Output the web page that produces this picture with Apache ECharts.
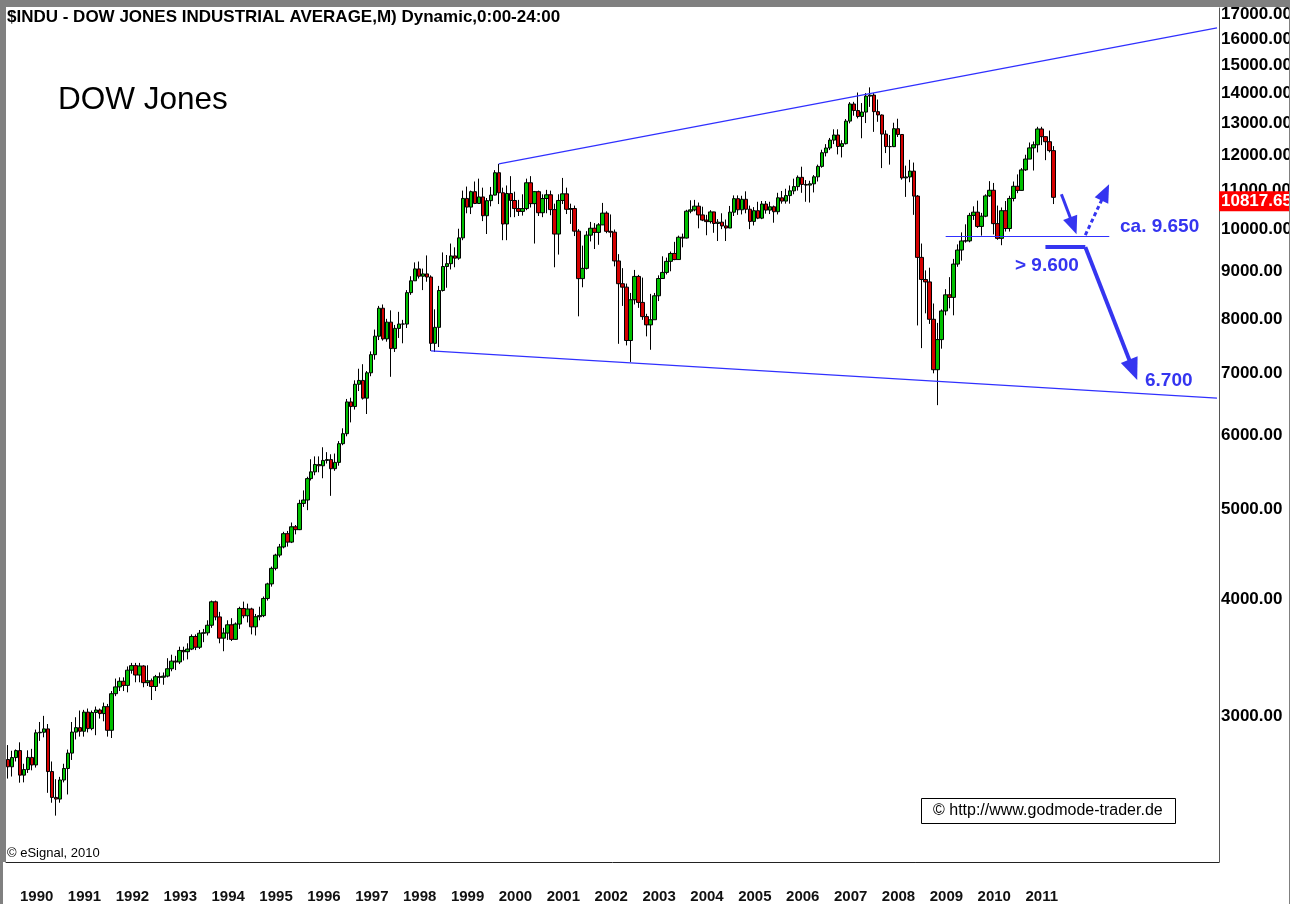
<!DOCTYPE html>
<html>
<head>
<meta charset="utf-8">
<title>DOW Jones</title>
<script src="https://cdn.jsdelivr.net/npm/echarts@6.0.0/dist/echarts.min.js"></script>
<style>
html, body { margin: 0; padding: 0; background: #fff; }
#main { width: 1298px; height: 904px; }
</style>
</head>
<body>
<div id="main"></div>
<script>
// monthly bars, Oct 1989 .. Aug 2011
var opens = [
    2693, 2645, 2706,
    2753, 2591, 2627, 2707, 2657, 2877, 2881, 2905, 2614, 2452, 2442, 2560,
    2634, 2736, 2882, 2914, 2888, 3028, 2907, 3025, 3044, 3017, 3069, 2895,
    3169, 3223, 3268, 3235, 3359, 3397, 3319, 3394, 3257, 3272, 3226, 3305,
    3301, 3310, 3371, 3435, 3428, 3527, 3516, 3539, 3651, 3555, 3681, 3684,
    3754, 3978, 3832, 3636, 3682, 3758, 3625, 3765, 3913, 3843, 3908, 3739,
    3834, 3844, 4011, 4158, 4321, 4465, 4556, 4708, 4611, 4789, 4755, 5074,
    5117, 5395, 5486, 5587, 5569, 5643, 5655, 5529, 5616, 5882, 6029, 6522,
    6448, 6813, 6878, 6583, 7009, 7331, 7673, 8223, 7622, 7945, 7442, 7823,
    7908, 7907, 8546, 8800, 9063, 8900, 8952, 8883, 7539, 7843, 8592, 9117,
    9181, 9359, 9307, 9786, 10789, 10560, 10971, 10655, 10829, 10337, 10730, 10878,
    11497, 10941, 10128, 10922, 10734, 10522, 10448, 10522, 11215, 10651, 10971, 10414,
    10787, 10887, 10495, 9879, 10735, 10912, 10502, 10523, 9950, 8848, 9075, 9852,
    10022, 9920, 10106, 10404, 9946, 9925, 9243, 8737, 8663, 7592, 8397, 8896,
    8342, 8054, 7891, 7992, 8480, 8850, 8985, 9234, 9416, 9275, 9801, 9782,
    10454, 10488, 10584, 10358, 10226, 10188, 10435, 10140, 10174, 10080, 10027, 10428,
    10783, 10490, 10766, 10504, 10193, 10467, 10275, 10641, 10482, 10569, 10440, 10806,
    10718, 10865, 10993, 11109, 11367, 11168, 11150, 11186, 11381, 11679, 12081, 12222,
    12463, 12622, 12269, 12354, 13063, 13628, 13409, 13212, 13358, 13896, 13930, 13372,
    13262, 12650, 12266, 12263, 12820, 12638, 11350, 11378, 11544, 10851, 9325, 8829,
    8776, 8001, 7063, 7609, 8168, 8500, 8447, 9172, 9496, 9712, 9713, 10345,
    10428, 10067, 10325, 10857, 11009, 10137, 9774, 10466, 10015, 10788, 11118, 11006,
    11578, 11892, 12226, 12320, 12811, 12570, 12414, 12143
];
var highs = [
    2791, 2752, 2761,
    2810, 2665, 2755, 2765, 2900, 2955, 3000, 2940, 2680, 2565, 2580, 2665,
    2760, 2955, 2990, 3040, 3045, 3055, 3040, 3070, 3055, 3100, 3090, 3190,
    3290, 3300, 3300, 3390, 3420, 3420, 3420, 3400, 3400, 3290, 3320, 3340,
    3340, 3460, 3490, 3480, 3560, 3560, 3590, 3670, 3670, 3710, 3720, 3800,
    3990, 3990, 3880, 3730, 3800, 3820, 3780, 3930, 3980, 3960, 3920, 3860,
    3930, 4030, 4170, 4340, 4480, 4590, 4730, 4740, 4840, 4810, 5120, 5240,
    5420, 5660, 5700, 5700, 5830, 5760, 5730, 5740, 5920, 6110, 6570, 6590,
    6880, 7080, 7160, 7040, 7390, 7800, 8270, 8300, 8010, 8180, 7890, 8150,
    7990, 8600, 8900, 9210, 9230, 9070, 9370, 8920, 8200, 8690, 9440, 9380,
    9650, 9560, 10010, 11000, 11110, 11000, 11250, 11330, 11080, 10800, 11100, 11570,
    11750, 11080, 11140, 11400, 10970, 10750, 10900, 11330, 11400, 10990, 11000, 10900,
    11020, 11000, 10650, 10900, 11350, 11080, 10650, 10600, 10000, 9600, 9950, 10180,
    10150, 10150, 10670, 10450, 10370, 9990, 9400, 9080, 8740, 8540, 9040, 8930,
    8870, 8110, 8520, 8540, 8920, 9350, 9320, 9460, 9690, 9840, 9890, 10490,
    10740, 10750, 10680, 10570, 10360, 10480, 10440, 10250, 10400, 10240, 10590, 10870,
    10870, 10860, 10980, 10600, 10560, 10700, 10720, 10720, 10700, 10600, 10940, 10990,
    11050, 11140, 11330, 11420, 11670, 11290, 11270, 11430, 11730, 12170, 12340, 12530,
    12800, 12800, 12460, 13130, 13690, 13700, 14020, 13660, 14000, 14200, 14000, 13780,
    13280, 12770, 12620, 13010, 13140, 12650, 11700, 11870, 11790, 10880, 9650, 9030,
    9090, 8320, 7930, 8200, 8620, 8880, 9290, 9630, 9920, 10120, 10410, 10580,
    10730, 10410, 10900, 11260, 11210, 10600, 10550, 10720, 10860, 11250, 11450, 11630,
    12020, 12390, 12420, 12880, 12880, 12580, 12760, 12280
];
var lows = [
    2569, 2582, 2680,
    2543, 2545, 2605, 2622, 2640, 2820, 2845, 2480, 2420, 2344, 2420, 2545,
    2470, 2690, 2830, 2850, 2850, 2880, 2895, 2860, 2980, 2960, 2850, 2840,
    3150, 3190, 3190, 3180, 3330, 3260, 3260, 3220, 3230, 3120, 3190, 3250,
    3240, 3300, 3350, 3360, 3410, 3440, 3450, 3530, 3530, 3540, 3600, 3660,
    3730, 3800, 3590, 3520, 3620, 3610, 3620, 3720, 3820, 3780, 3670, 3660,
    3800, 3830, 3990, 4130, 4300, 4440, 4540, 4560, 4600, 4700, 4750, 5030,
    4990, 5370, 5440, 5480, 5400, 5600, 5170, 5500, 5570, 5860, 5990, 6200,
    6400, 6700, 6560, 6330, 6950, 7240, 7600, 7590, 7570, 6940, 7380, 7640,
    7540, 7830, 8500, 8800, 8850, 8600, 8780, 7400, 7380, 7470, 8570, 8650,
    9050, 9100, 9270, 9730, 10400, 10380, 10640, 10650, 10200, 9880, 10580, 10870,
    10640, 9730, 9730, 10300, 10300, 10330, 10340, 10480, 10550, 9650, 10330, 10300,
    10400, 10350, 9100, 9390, 10640, 10380, 10130, 9830, 8060, 8660, 9050, 9700,
    9520, 9620, 10100, 9900, 9800, 9120, 7530, 8270, 7500, 7200, 8300, 8230,
    7990, 7670, 7420, 7990, 8370, 8840, 8940, 9010, 9260, 9270, 9560, 9770,
    10400, 10450, 10020, 10200, 9850, 10140, 9910, 9710, 10000, 9710, 10030, 10330,
    10360, 10370, 10400, 10000, 10090, 10250, 10250, 10390, 10380, 10160, 10370, 10650,
    10650, 10650, 10900, 11000, 10940, 10700, 10680, 10950, 11250, 11640, 11970, 12160,
    12340, 12030, 11940, 12330, 12990, 13240, 13150, 12520, 13000, 13530, 12720, 13040,
    11630, 12070, 11730, 12250, 12560, 11300, 10830, 11230, 10360, 7880, 7450, 8120,
    7910, 7000, 6470, 7440, 8080, 8220, 8080, 9110, 9250, 9670, 9680, 10230,
    10030, 9840, 10300, 10830, 9870, 9740, 9610, 9940, 9940, 10710, 10930, 11000,
    11550, 11890, 11560, 12090, 12310, 11860, 12090, 10640
];
var closes = [
    2645, 2706, 2753,
    2591, 2627, 2707, 2657, 2877, 2881, 2905, 2614, 2452, 2442, 2560, 2634,
    2736, 2882, 2914, 2888, 3028, 2907, 3025, 3044, 3017, 3069, 2895, 3169,
    3223, 3268, 3235, 3359, 3397, 3319, 3394, 3257, 3272, 3226, 3305, 3301,
    3310, 3371, 3435, 3428, 3527, 3516, 3539, 3651, 3555, 3681, 3684, 3754,
    3978, 3832, 3636, 3682, 3758, 3625, 3765, 3913, 3843, 3908, 3739, 3834,
    3844, 4011, 4158, 4321, 4465, 4556, 4708, 4611, 4789, 4755, 5074, 5117,
    5395, 5486, 5587, 5569, 5643, 5655, 5529, 5616, 5882, 6029, 6522, 6448,
    6813, 6878, 6583, 7009, 7331, 7673, 8223, 7622, 7945, 7442, 7823, 7908,
    7907, 8546, 8800, 9063, 8900, 8952, 8883, 7539, 7843, 8592, 9117, 9181,
    9359, 9307, 9786, 10789, 10560, 10971, 10655, 10829, 10337, 10730, 10878, 11497,
    10941, 10128, 10922, 10734, 10522, 10448, 10522, 11215, 10651, 10971, 10414, 10787,
    10887, 10495, 9879, 10735, 10912, 10502, 10523, 9950, 8848, 9075, 9852, 10022,
    9920, 10106, 10404, 9946, 9925, 9243, 8737, 8663, 7592, 8397, 8896, 8342,
    8054, 7891, 7992, 8480, 8850, 8985, 9234, 9416, 9275, 9801, 9782, 10454,
    10488, 10584, 10358, 10226, 10188, 10435, 10140, 10174, 10080, 10027, 10428, 10783,
    10490, 10766, 10504, 10193, 10467, 10275, 10641, 10482, 10569, 10440, 10806, 10718,
    10865, 10993, 11109, 11367, 11168, 11150, 11186, 11381, 11679, 12081, 12222, 12463,
    12622, 12269, 12354, 13063, 13628, 13409, 13212, 13358, 13896, 13930, 13372, 13265,
    12650, 12266, 12263, 12820, 12638, 11350, 11378, 11544, 10851, 9325, 8829, 8776,
    8001, 7063, 7609, 8168, 8500, 8447, 9172, 9496, 9712, 9713, 10345, 10428,
    10067, 10325, 10857, 11009, 10137, 9774, 10466, 10015, 10788, 11118, 11006, 11578,
    11892, 12226, 12320, 12811, 12570, 12414, 12143, 10818
];
var lastPrice = 10817.65;

// right axis ticks (log scale)
var tickValues = [3000, 4000, 5000, 6000, 7000, 8000, 9000, 10000, 11000, 12000, 13000, 14000, 15000, 16000, 17000];
var yMin = 2090, yMax = 17280;

// drawings: [month, price]
var upperTrend = [['2000-01', 11750], ['2015-01', 16450]];
var lowerTrend = [['1998-08', 7400], ['2015-01', 6585]];
var supportLevel = [['2009-05', 9825], ['2012-10', 9825]];
var breakLevel = [['2011-06', 9565], ['2012-04', 9565]];
var targetArrow = [['2012-04', 9565], ['2013-04', 7060]];
var pullbackArrow = [['2011-10', 10900], ['2012-01', 10082]];
var reboundArrow = [['2012-04', 9853], ['2012-09', 10953]];

// month slots, Oct 1989 .. Jan 2015 (empty space on the right)
var months = [];
for (var i = 0; i < 304; i++) {
    var t = 9 + i;
    months.push((1989 + Math.floor(t / 12)) + '-' + ('0' + (t % 12 + 1)).slice(-2));
}

var FONT = '"Liberation Sans", Arial, sans-serif';
var BLUE = '#3030ff';
var ANNO = '#3535f0';

function lg(v) { return Math.log10(v); }

var candles = opens.map(function (o, i) {
    return [lg(o), lg(closes[i]), lg(lows[i]), lg(highs[i])];
});

function seg(pts, style, arrow) {
    return [
        { coord: [pts[0][0], lg(pts[0][1])], symbol: 'none', lineStyle: style },
        { coord: [pts[1][0], lg(pts[1][1])], symbol: arrow ? 'triangle' : 'none', symbolSize: arrow || 0 }
    ];
}

var myChart = echarts.init(document.getElementById('main'));
var option = {
    animation: false,
    backgroundColor: '#fff',
    grid: { left: 6, right: 79, top: 8, bottom: 42, show: false },
    xAxis: {
        type: 'category',
        data: months,
        boundaryGap: true,
        axisLine: { show: true, lineStyle: { color: '#222', width: 1 } },
        axisTick: { show: false },
        splitLine: { show: false },
        axisLabel: {
            interval: function (idx, v) { return v.slice(5) === '01' && +v.slice(0, 4) <= 2011; },
            formatter: function (v) { return v.slice(0, 4); },
            align: 'left',
            margin: 27,
            hideOverlap: false,
            color: '#111',
            fontSize: 15,
            fontWeight: 'bold',
            fontFamily: FONT
        }
    },
    yAxis: {
        type: 'value',
        position: 'right',
        min: lg(yMin),
        max: lg(yMax),
        axisLine: { show: true, lineStyle: { color: '#555', width: 1 } },
        axisTick: { show: false },
        splitLine: { show: false },
        axisLabel: {
            customValues: tickValues.map(lg),
            formatter: function (v) { return Math.round(Math.pow(10, v)).toFixed(2); },
            margin: 2,
            padding: [3, 0, 0, 0],
            color: '#000',
            fontSize: 17,
            fontWeight: 'bold',
            fontFamily: FONT
        }
    },
    series: [
        {
            name: '$INDU',
            type: 'candlestick',
            data: candles,
            barWidth: 4,
            itemStyle: {
                color: '#00c000',
                color0: '#d40000',
                borderColor: '#000',
                borderColor0: '#000',
                borderColorDoji: '#000',
                borderWidth: 1
            },
            markLine: {
                silent: true,
                symbol: ['none', 'none'],
                label: { show: false },
                emphasis: { disabled: true },
                data: [
                    seg(upperTrend, { color: BLUE, width: 1.2, type: 'solid' }),
                    seg(lowerTrend, { color: BLUE, width: 1.2, type: 'solid' }),
                    seg(supportLevel, { color: BLUE, width: 1.2, type: 'solid' }),
                    seg(breakLevel, { color: ANNO, width: 4, type: 'solid' }),
                    seg(targetArrow, { color: ANNO, width: 4, type: 'solid' }, [18, 22]),
                    seg(pullbackArrow, { color: ANNO, width: 3, type: 'solid' }, [15, 18]),
                    seg(reboundArrow, { color: ANNO, width: 3, type: [4, 3] }, [15, 18])
                ]
            }
        },
        {
            name: 'last',
            type: 'line',
            data: [],
            silent: true,
            markLine: {
                silent: true,
                symbol: ['none', 'none'],
                emphasis: { disabled: true },
                lineStyle: { color: 'rgba(0,0,0,0)', width: 0 },
                label: {
                    show: true,
                    position: 'end',
                    distance: 0,
                    formatter: lastPrice.toFixed(2),
                    color: '#fff',
                    backgroundColor: '#ff0000',
                    fontSize: 17,
                    fontWeight: 'bold',
                    fontFamily: FONT,
                    padding: [2, 3, 1, 2]
                },
                data: [{ yAxis: lg(lastPrice) }]
            }
        }
    ],
    graphic: [
        { type: 'rect', z: 100, shape: { x: 0, y: 0, width: 1298, height: 7 }, style: { fill: '#808080' } },
        { type: 'rect', z: 100, shape: { x: 0, y: 0, width: 6, height: 862 }, style: { fill: '#808080' } },
        { type: 'rect', z: 100, shape: { x: 0, y: 862, width: 3, height: 42 }, style: { fill: '#808080' } },
        { type: 'rect', z: 100, shape: { x: 1290, y: 0, width: 8, height: 904 }, style: { fill: '#fff' } },
        { type: 'line', z: 101, shape: { x1: 1289.5, y1: 0, x2: 1289.5, y2: 904 }, style: { stroke: '#808080', lineWidth: 1 } },
        { type: 'text', z: 100, x: 7, y: 17, style: { text: '$INDU - DOW JONES INDUSTRIAL AVERAGE,M) Dynamic,0:00-24:00', font: 'bold 17px ' + FONT, fill: '#000', verticalAlign: 'middle' } },
        { type: 'text', z: 100, x: 58, y: 100, style: { text: 'DOW Jones', font: '31.5px ' + FONT, fill: '#000', verticalAlign: 'middle' } },
        { type: 'text', z: 100, x: 7, y: 853, style: { text: '\u00a9 eSignal, 2010', font: '13px ' + FONT, fill: '#000', verticalAlign: 'middle' } },
        { type: 'rect', z: 100, shape: { x: 921.5, y: 798.5, width: 254, height: 25 }, style: { fill: '#fff', stroke: '#000', lineWidth: 1 } },
        { type: 'text', z: 101, x: 933, y: 811, style: { text: '\u00a9 http://www.godmode-trader.de', font: '16px ' + FONT, fill: '#000', verticalAlign: 'middle' } },
        { type: 'text', z: 100, x: 1120, y: 227, style: { text: 'ca. 9.650', font: 'bold 19px ' + FONT, fill: ANNO, verticalAlign: 'middle' } },
        { type: 'text', z: 100, x: 1015, y: 266, style: { text: '> 9.600', font: 'bold 19px ' + FONT, fill: ANNO, verticalAlign: 'middle' } },
        { type: 'text', z: 100, x: 1145, y: 381, style: { text: '6.700', font: 'bold 19px ' + FONT, fill: ANNO, verticalAlign: 'middle' } }
    ]
};
myChart.setOption(option);
</script>
</body>
</html>
